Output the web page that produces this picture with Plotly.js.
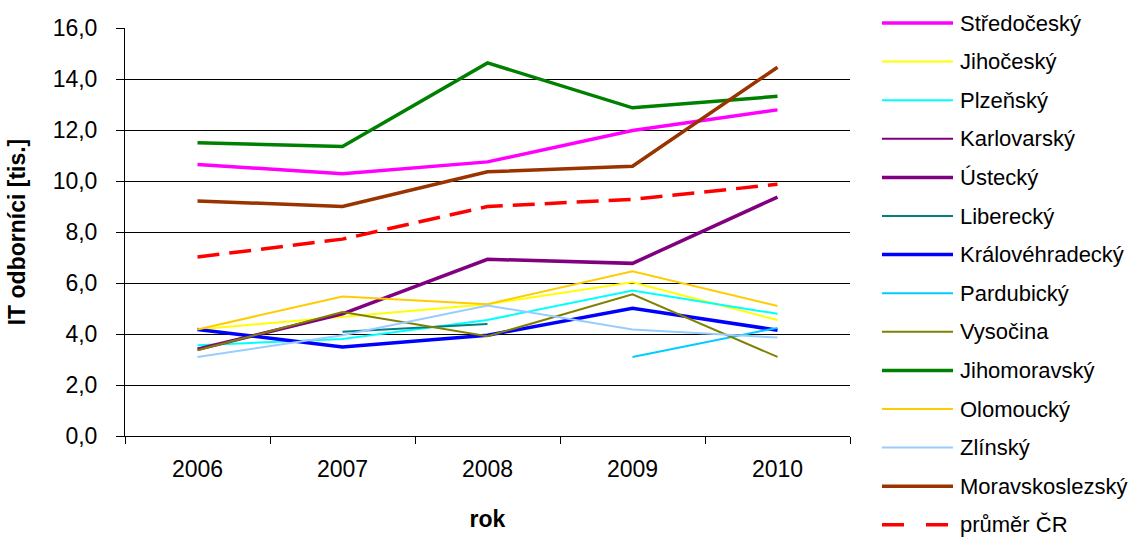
<!DOCTYPE html>
<html>
<head>
<meta charset="utf-8">
<script src="https://cdn.plot.ly/plotly-3.0.1.min.js"></script>
<style>html,body{margin:0;padding:0;background:#fff;}#chart{width:1141px;height:538px;}</style>
</head>
<body>
<div id="chart"></div>
<script>
const years = ['2006', '2007', '2008', '2009', '2010'];

const stredocesky      = [10.65, 10.28, 10.75, 11.98, 12.79];
const jihocesky        = [4.18, 4.68, 5.17, 6.03, 4.55];
const plzensky         = [3.56, 3.80, 4.55, 5.71, 4.79];
const karlovarsky      = [null, null, null, null, null];
const ustecky          = [3.40, 4.79, 6.93, 6.77, 9.37];
const liberecky        = [null, 4.09, 4.39, null, null];
const kralovehradecky  = [4.18, 3.49, 3.95, 5.01, 4.15];
const pardubicky       = [null, null, null, 3.10, 4.24];
const vysocina         = [3.36, 4.86, 3.91, 5.56, 3.10];
const jihomoravsky     = [11.50, 11.35, 14.63, 12.87, 13.32];
const olomoucky        = [4.18, 5.47, 5.17, 6.46, 5.10];
const zlinsky          = [3.10, 3.95, 5.12, 4.18, 3.86];
const moravskoslezsky  = [9.22, 9.00, 10.36, 10.58, 14.46];
const prumerCR         = [7.02, 7.72, 9.00, 9.28, 9.87];

const seriesNames = ['Středočeský', 'Jihočeský', 'Plzeňský', 'Karlovarský', 'Ústecký', 'Liberecký',
  'Královéhradecký', 'Pardubický', 'Vysočina', 'Jihomoravský', 'Olomoucký', 'Zlínský',
  'Moravskoslezský', 'průměr ČR'];
const seriesValues = [stredocesky, jihocesky, plzensky, karlovarsky, ustecky, liberecky,
  kralovehradecky, pardubicky, vysocina, jihomoravsky, olomoucky, zlinsky, moravskoslezsky, prumerCR];
const seriesColors = ['#FF00FF', '#FFFF00', '#00FFFF', '#800080', '#800080', '#008080',
  '#0000FF', '#00CCFF', '#808000', '#008000', '#FFCC00', '#99CCFF', '#993300', '#FF0000'];
const seriesWidths = [3.5, 2, 2, 2, 3.5, 2, 3.5, 2, 2, 3.5, 2, 2, 3.5, 3.5];
const seriesDash = ['solid', 'solid', 'solid', 'solid', 'solid', 'solid', 'solid', 'solid',
  'solid', 'solid', 'solid', 'solid', 'solid', '22px,10px'];

const FONT = 'Liberation Sans, Arial, sans-serif';

const traces = seriesNames.map((n, i) => ({
  type: 'scatter', mode: 'lines', name: n, x: years, y: seriesValues[i],
  line: {color: seriesColors[i], width: seriesWidths[i], dash: seriesDash[i]},
  showlegend: false, connectgaps: false, hoverinfo: 'skip'
}));

// custom legend (paper coordinates)
const L = 125, R = 850, T = 28, B = 436;
const px2x = p => (p - L) / (R - L);
const py2y = p => (B - p) / (B - T);
const shapes = [];
const annotations = [];
seriesNames.forEach((n, i) => {
  const yy = 23 + i * 38.6;
  shapes.push({type: 'line', xref: 'paper', yref: 'paper',
    x0: px2x(882), x1: px2x(953), y0: py2y(yy), y1: py2y(yy),
    line: {color: seriesColors[i], width: seriesWidths[i], dash: i === 13 ? '22px,22px' : 'solid'}});
  annotations.push({xref: 'paper', yref: 'paper', x: px2x(958), y: py2y(yy),
    xanchor: 'left', yanchor: 'middle', showarrow: false, text: n,
    font: {family: FONT, size: 22, color: '#000'}});
});

const layout = {
  width: 1141, height: 538,
  margin: {l: L, r: 1141 - R, t: T, b: 538 - B, pad: 0},
  paper_bgcolor: '#fff', plot_bgcolor: '#fff',
  separators: ', ',
  font: {family: FONT, size: 23, color: '#000'},
  xaxis: {
    type: 'category', range: [-0.5, 4.5], tickson: 'boundaries',
    ticks: 'outside', ticklen: 7, tickcolor: '#000', tickwidth: 1,
    showline: true, linecolor: '#000', linewidth: 1, showgrid: false, zeroline: false,
    tickfont: {family: FONT, size: 23, color: '#000'}, ticklabelstandoff: 12,
    title: {text: '<b>rok</b>', font: {family: FONT, size: 23, color: '#000'}, standoff: 30}
  },
  yaxis: {
    range: [0, 16], dtick: 2, tick0: 0, tickformat: '.1f',
    ticks: 'outside', ticklen: 8, tickcolor: '#000', tickwidth: 1,
    showline: true, linecolor: '#000', linewidth: 1,
    showgrid: true, gridcolor: '#000', gridwidth: 1, zeroline: false,
    tickfont: {family: FONT, size: 23, color: '#000'}, ticklabelstandoff: 14,
    title: {text: '<b>IT odborníci [tis.]</b>', font: {family: FONT, size: 23, color: '#000'}, standoff: 20}
  },
  shapes: shapes,
  annotations: annotations
};

Plotly.newPlot('chart', traces, layout, {displayModeBar: false, staticPlot: true});
</script>
</body>
</html>
